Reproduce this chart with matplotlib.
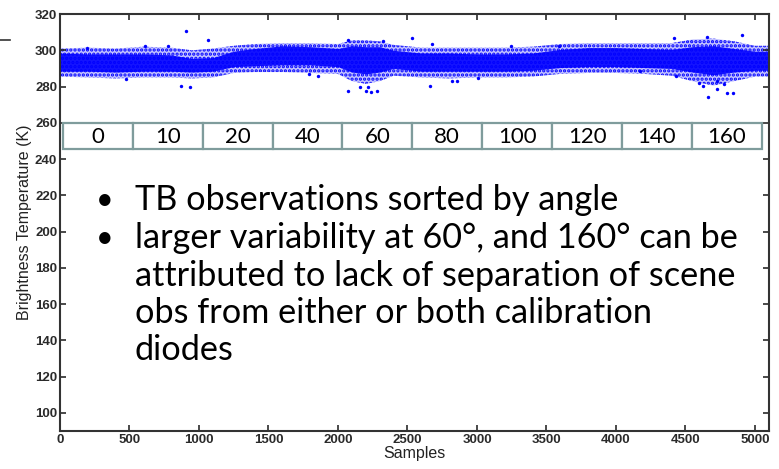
import matplotlib.pyplot as plt
from matplotlib.patches import Rectangle
from matplotlib.lines import Line2D

# core of the scatter cloud (dense part)
samples = [0, 200, 400, 600, 800, 950, 1100, 1250, 1400, 1600, 1800, 2000, 2100,
           2200, 2300, 2400, 2600, 2800, 3000, 3200, 3400, 3600, 3800, 4000, 4200,
           4400, 4550, 4700, 4850, 5000, 5100]
core_lo = [288.5, 288.5, 288, 288.5, 288.5, 288, 288.5, 291, 291.5, 292, 292, 291, 288,
           287, 288, 290, 288.5, 288.5, 288.5, 288.5, 289, 290.5, 291, 291, 290.5,
           290, 288, 286.5, 288, 289, 289]
core_hi = [298.5, 298, 298, 298, 297.5, 295.5, 296, 299.5, 301, 302.5, 302, 301, 302.5,
           302, 302, 300, 298.5, 298.5, 298, 298, 298.5, 300.5, 301.5, 301.5, 301,
           300.5, 302, 302.5, 301, 299.5, 299.5]
# sparser fringe of the cloud
fringe_lo = [285.5, 285, 284.5, 285, 285, 284.5, 285, 287.5, 288, 288, 287.5, 287, 283,
             281.5, 283, 286, 285, 284.5, 285, 285, 285.5, 287, 287.5, 287.5, 287,
             286, 283, 280.5, 283, 285.5, 285.5]
fringe_hi = [301, 301.5, 301, 302, 301.5, 300, 301, 302.5, 303.5, 304, 304, 303.5, 305.5,
             305.5, 305, 303, 301.5, 301.5, 301.5, 301.5, 302, 303.5, 304, 304, 304,
             304, 306, 306.5, 305, 302.5, 302.5]
# isolated points outside the cloud
out_x = [192, 473, 611, 779, 870, 904, 935, 1062, 1792, 1856, 2070, 2072, 2158, 2201,
         2218, 2238, 2278, 2324, 2532, 2662, 2674, 2818, 2855, 3007, 3245, 3590,
         4173, 4417, 4432, 4597, 4626, 4652, 4662, 4724, 4727, 4777, 4797, 4839, 4904]
out_y = [301.3, 284.3, 302.2, 302.2, 280.3, 310.8, 280, 305.8, 287, 285.8, 277.6, 305.8,
         280, 277.6, 279.5, 277, 277.3, 305.4, 306.7, 280.3, 303.7, 283, 283.3, 284.5,
         302.2, 302.2, 288.5, 307, 285.8, 282.1, 280.3, 307.6, 274.3, 283, 278.5,
         281.6, 276.7, 276.7, 308.6]

angles = ['0', '10', '20', '40', '60', '80', '100', '120', '140', '160']

bullets = ['TB observations sorted by angle',
           'larger variability at 60°, and 160° can be',
           'attributed to lack of separation of scene',
           'obs from either or both calibration',
           'diodes']
has_bullet = [True, True, False, False, False]

plt.rcParams['hatch.linewidth'] = 1.6
plt.rcParams['font.family'] = 'Liberation Sans'

fig = plt.figure(figsize=(7.79, 4.69), dpi=100)
ax = fig.add_axes([0.077, 0.081, 0.910, 0.889])

blue = '#0000ff'
ax.fill_between(samples, fringe_lo, fringe_hi, facecolor='#c4c4ff', edgecolor=blue,
                hatch='....', linewidth=0)
ax.fill_between(samples, core_lo, core_hi, color=blue, linewidth=0, alpha=0.9)
ax.scatter(out_x, out_y, s=6, color=blue, marker='o', linewidths=0)

ax.set_xlim(0, 5100)
ax.set_ylim(90, 320)
ax.set_xticks(range(0, 5001, 500))
ax.set_yticks(range(100, 321, 20))
ax.tick_params(direction='in', top=True, right=True, length=4, width=1.2,
               labelsize=9.5, colors='#2a2a2a', pad=2)
for lab in ax.get_xticklabels() + ax.get_yticklabels():
    lab.set_fontweight('bold')
for sp in ax.spines.values():
    sp.set_linewidth(1.5)
    sp.set_color('#333333')
ax.set_xlabel('Samples', fontsize=11.5, labelpad=0, color='#222222')
ax.set_ylabel('Brightness Temperature (K)', fontsize=11.5, labelpad=2, color='#222222')

# angle boxes
n = len(angles)
x0, x1 = 0.004, 0.990
w = (x1 - x0) / n
for i, a in enumerate(angles):
    ax.add_patch(Rectangle((x0 + i * w, 0.676), w, 0.063, transform=ax.transAxes,
                           facecolor='white', edgecolor='#7f9c9c', linewidth=1.6,
                           zorder=3))
    ax.text(x0 + (i + 0.5) * w, 0.704, a, transform=ax.transAxes, ha='center',
            va='center', fontsize=16, family='Lato', zorder=4)

# bullet text
ys = [200, 238, 276, 313, 350]
for t, b, y in zip(bullets, has_bullet, ys):
    fy = 1 - y / 469
    if b:
        fig.text(105 / 779, fy, '•', fontsize=22, family='Lato', va='center', ha='center')
    fig.text(135 / 779, fy, t, fontsize=24.7, family='Lato', va='center', ha='left')

fig.add_artist(Line2D([0, 10 / 779], [1 - 40 / 469, 1 - 40 / 469], color='#333333',
                      linewidth=1.2))

fig.savefig('out.png', dpi=100)
